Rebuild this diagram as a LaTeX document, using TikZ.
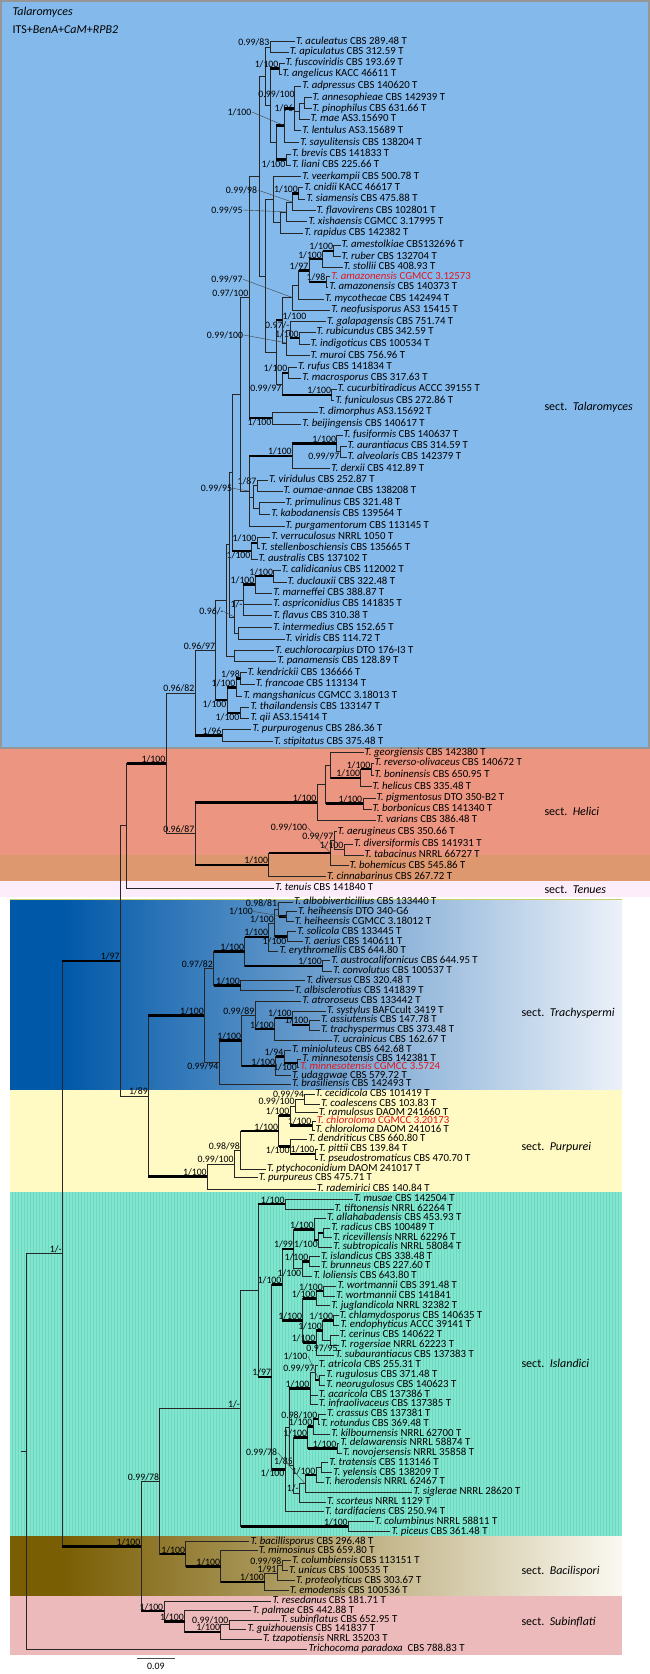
\documentclass[tikz,border=0pt]{standalone}
\usepackage{fontspec}
\setmainfont{Carlito}
\definecolor{talblue}{RGB}{132,185,236}
\definecolor{talframe}{RGB}{150,150,150}
\definecolor{helsalmon}{RGB}{236,150,130}
\definecolor{helband}{RGB}{222,152,112}
\definecolor{tenpink}{RGB}{253,236,250}
\definecolor{tradeep}{RGB}{0,88,168}
\definecolor{tramid}{RGB}{105,158,212}
\definecolor{tralight}{RGB}{236,241,249}
\definecolor{trline}{RGB}{200,205,110}
\definecolor{purpyellow}{RGB}{255,250,196}
\definecolor{islteal}{RGB}{128,230,206}
\definecolor{islstripe}{RGB}{112,216,194}
\definecolor{bacolive}{RGB}{122,94,4}
\definecolor{bacmid}{RGB}{212,198,150}
\definecolor{baclight}{RGB}{250,248,240}
\definecolor{subpink}{RGB}{236,186,186}
\definecolor{novred}{RGB}{230,20,30}
\newcommand{\tal}[1]{\textit{T. #1}}
\newcommand{\clade}[2]{\foreach \ch in {#2}{\draw[branch] (#1) |- (\ch);}}
\newcommand{\strongbr}[2]{\foreach \ch in {#2}{\draw[strong] (#1 |- \ch) -- (\ch);}}
\tikzset{
  taxon/.style={anchor=west, inner sep=1pt, font=\fontsize{10.8}{11}\selectfont, text height=6.3pt, text depth=1.6pt},
  newtaxon/.style={taxon, text=novred},
  supp/.style={inner sep=0.4pt, font=\fontsize{9.8}{10}\selectfont},
  bs/.style={label={[supp]above left:#1}},
  bsb/.style={label={[supp]below left:#1}},
  bsr/.style={label={[supp]above right:#1}},
  branch/.style={line width=0.55pt, draw=black!85},
  strong/.style={line width=2.6pt, draw=black},
  leaderline/.style={line width=0.4pt, draw=black!75},
  sectlabel/.style={anchor=west, font=\fontsize{12}{14}\selectfont},
}
\begin{document}
\begin{tikzpicture}[x=1pt,y=-1pt]
\useasboundingbox (0,0) rectangle (650,1674);
% section boxes
\fill[talblue] (1,1) rectangle (649,747.7);
\draw[talframe, line width=1.6pt] (1,1) rectangle (649,747.7);
\fill[helsalmon] (0,748.5) rectangle (650,880.5);
\fill[helband] (0,855) rectangle (650,880.5);
\fill[tenpink] (0,880.5) rectangle (650,897);
\fill[tradeep] (9.5,899) rectangle (62,1090);
\shade[left color=tradeep, middle color=tramid, right color=tralight] (62,899) rectangle (622,1090);
\draw[trline, line width=0.8pt] (9.5,899) -- (622,899);
\fill[purpyellow] (9.5,1090) rectangle (622,1192);
\fill[islteal] (9.5,1192) rectangle (622,1536);
\foreach \s in {12,15,...,620} {\draw[islstripe, line width=0.5pt] (\s,1192) -- (\s,1536);}
\fill[bacolive] (9.5,1536) rectangle (62,1596);
\shade[left color=bacolive, middle color=bacmid, right color=baclight] (62,1536) rectangle (622,1596);
\fill[subpink] (9.5,1596) rectangle (622,1655);
% headings
\node[sectlabel] (title) at (9,12.7) {\textit{Talaromyces}};
\node[sectlabel] (markers) at (9,30) {ITS+\textit{BenA}+\textit{CaM}+\textit{RPB2}};
\node[sectlabel] (stal) at (541,407.7) {sect.\ \ \textit{Talaromyces}};
\node[sectlabel] (shel) at (541,811) {sect.\ \ \textit{Helici}};
\node[sectlabel] (sten) at (541,889.3) {sect.\ \ \textit{Tenues}};
\node[sectlabel] (stra) at (518,1013.3) {sect.\ \ \textit{Trachyspermi}};
\node[sectlabel] (spur) at (518,1147.7) {sect.\ \ \textit{Purpurei}};
\node[sectlabel] (sisl) at (518,1363.3) {sect.\ \ \textit{Islandici}};
\node[sectlabel] (sbac) at (518,1571) {sect.\ \ \textit{Bacilispori}};
\node[sectlabel] (ssub) at (518,1621.7) {sect.\ \ \textit{Subinflati}};
% taxa: sect. Talaromyces
\node[taxon] (aculeatus) at (294.9,41.7) {\tal{aculeatus} CBS 289.48 T};
\node[taxon] (apiculatus) at (288.7,52.3) {\tal{apiculatus} CBS 312.59 T};
\node[taxon] (fuscoviridis) at (284.5,63.3) {\tal{fuscoviridis} CBS 193.69 T};
\node[taxon] (angelicus) at (281.5,74) {\tal{angelicus} KACC 46611 T};
\node[taxon] (adpressus) at (301.2,86) {\tal{adpressus} CBS 140620 T};
\node[taxon] (annesophieae) at (311.5,97.7) {\tal{annesophieae} CBS 142939 T};
\node[taxon] (pinophilus) at (311.5,108.7) {\tal{pinophilus} CBS 631.66 T};
\node[taxon] (mae) at (309.5,119.3) {\tal{mae} AS3.15690 T};
\node[taxon] (lentulus) at (301.2,130.7) {\tal{lentulus} AS3.15689 T};
\node[taxon] (sayulitensis) at (299.1,142.7) {\tal{sayulitensis} CBS 138204 T};
\node[taxon] (brevis) at (290.8,154.3) {\tal{brevis} CBS 141833 T};
\node[taxon] (liani) at (290.8,165) {\tal{liani} CBS 225.66 T};
\node[taxon] (veerkampii) at (301.2,176.7) {\tal{veerkampii} CBS 500.78 T};
\node[taxon] (cnidii) at (303.2,187.7) {\tal{cnidii} KACC 46617 T};
\node[taxon] (siamensis) at (305.3,199.3) {\tal{siamensis} CBS 475.88 T};
\node[taxon] (flavovirens) at (315.5,210.7) {\tal{flavovirens} CBS 102801 T};
\node[taxon] (xishaensis) at (307.4,221.7) {\tal{xishaensis} CGMCC 3.17995 T};
\node[taxon] (rapidus) at (303.2,233.3) {\tal{rapidus} CBS 142382 T};
\node[taxon] (amestolkiae) at (340.5,245) {\tal{amestolkiae} CBS132696 T};
\node[taxon] (ruber) at (340.5,256.7) {\tal{ruber} CBS 132704 T};
\node[taxon] (stollii) at (342.5,267.3) {\tal{stollii} CBS 408.93 T};
\node[newtaxon] (amazonensisA) at (330.2,276.7) {\tal{amazonensis} CGMCC 3.12573};
\node[taxon] (amazonensisB) at (328.1,287.3) {\tal{amazonensis} CBS 140373 T};
\node[taxon] (mycothecae) at (324,299) {\tal{mycothecae} CBS 142494 T};
\node[taxon] (neofusisporus) at (330.2,310) {\tal{neofusisporus} AS3 15415 T};
\node[taxon] (galapagensis) at (326,321.7) {\tal{galapagensis} CBS 751.74 T};
\node[taxon] (rubicundus) at (315.5,332.3) {\tal{rubicundus} CBS 342.59 T};
\node[taxon] (indigoticus) at (309.5,344) {\tal{indigoticus} CBS 100534 T};
\node[taxon] (muroi) at (309.5,355.7) {\tal{muroi} CBS 756.96 T};
\node[taxon] (rufus) at (297,367.3) {\tal{rufus} CBS 141834 T};
\node[taxon] (macrosporus) at (301.2,378.3) {\tal{macrosporus} CBS 317.63 T};
\node[taxon] (cucurbitiradicus) at (336.5,389.3) {\tal{cucurbitiradicus} ACCC 39155 T};
\node[taxon] (funiculosus) at (334.3,400.7) {\tal{funiculosus} CBS 272.86 T};
\node[taxon] (dimorphus) at (317.5,412.3) {\tal{dimorphus} AS3.15692 T};
\node[taxon] (beijingensis) at (301.2,424) {\tal{beijingensis} CBS 140617 T};
\node[taxon] (fusiformis) at (342.5,435) {\tal{fusiformis} CBS 140637 T};
\node[taxon] (aurantiacus) at (346.5,446) {\tal{aurantiacus} CBS 314.59 T};
\node[taxon] (alveolaris) at (346.5,457.3) {\tal{alveolaris} CBS 142379 T};
\node[taxon] (derxii) at (330.2,468.7) {\tal{derxii} CBS 412.89 T};
\node[taxon] (viridulus) at (268,480) {\tal{viridulus} CBS 252.87 T};
\node[taxon] (oumaeannae) at (282.5,491) {\tal{oumae-annae} CBS 138208 T};
\node[taxon] (primulinus) at (284.5,502.7) {\tal{primulinus} CBS 321.48 T};
\node[taxon] (kabodanensis) at (270.1,514) {\tal{kabodanensis} CBS 139564 T};
\node[taxon] (purgamentorum) at (284.5,526) {\tal{purgamentorum} CBS 113145 T};
\node[taxon] (verruculosus) at (270.1,537.3) {\tal{verruculosus} NRRL 1050 T};
\node[taxon] (stellenboschiensis) at (259.7,548.3) {\tal{stellenboschiensis} CBS 135665 T};
\node[taxon] (australis) at (257.5,559.3) {\tal{australis} CBS 137102 T};
\node[taxon] (calidicanius) at (280.5,570) {\tal{calidicanius} CBS 112002 T};
\node[taxon] (duclauxii) at (286.5,582.3) {\tal{duclauxii} CBS 322.48 T};
\node[taxon] (marneffei) at (272.1,593.3) {\tal{marneffei} CBS 388.87 T};
\node[taxon] (aspriconidius) at (272.1,604.3) {\tal{aspriconidius} CBS 141835 T};
\node[taxon] (flavus) at (272.1,615.7) {\tal{flavus} CBS 310.38 T};
\node[taxon] (intermedius) at (272.1,627.7) {\tal{intermedius} CBS 152.65 T};
\node[taxon] (viridis) at (284.5,639.3) {\tal{viridis} CBS 114.72 T};
\node[taxon] (euchlorocarpius) at (274.2,650.7) {\tal{euchlorocarpius} DTO 176-I3 T};
\node[taxon] (panamensis) at (276.3,661) {\tal{panamensis} CBS 128.89 T};
\node[taxon] (kendrickii) at (246.5,672.7) {\tal{kendrickii} CBS 136666 T};
\node[taxon] (francoae) at (254.7,684.3) {\tal{francoae} CBS 113134 T};
\node[taxon] (mangshanicus) at (242.3,696) {\tal{mangshanicus} CGMCC 3.18013 T};
\node[taxon] (thailandensis) at (249.3,707.3) {\tal{thailandensis} CBS 133147 T};
\node[taxon] (qii) at (249.3,718.3) {\tal{qii} AS3.15414 T};
\node[taxon] (purpurogenus) at (251.4,729.3) {\tal{purpurogenus} CBS 286.36 T};
\node[taxon] (stipitatus) at (273,741.7) {\tal{stipitatus} CBS 375.48 T};
% taxa: sect. Helici, Tenues
\node[taxon] (georgiensis) at (363.5,752.7) {\tal{georgiensis} CBS 142380 T};
\node[taxon] (reversoolivaceus) at (373.5,763.3) {\tal{reverso-olivaceus} CBS 140672 T};
\node[taxon] (boninensis) at (373.5,775) {\tal{boninensis} CBS 650.95 T};
\node[taxon] (helicus) at (371.5,786.7) {\tal{helicus} CBS 335.48 T};
\node[taxon] (pigmentosus) at (375.5,798.3) {\tal{pigmentosus} DTO 350-B2 T};
\node[taxon] (borbonicus) at (371.5,809) {\tal{borbonicus} CBS 141340 T};
\node[taxon] (varians) at (375.5,820) {\tal{varians} CBS 386.48 T};
\node[taxon] (aerugineus) at (336.5,831.7) {\tal{aerugineus} CBS 350.66 T};
\node[taxon] (diversiformis) at (353,844) {\tal{diversiformis} CBS 141931 T};
\node[taxon] (tabacinus) at (363.5,855) {\tal{tabacinus} NRRL 66727 T};
\node[taxon] (bohemicus) at (348.5,865.7) {\tal{bohemicus} CBS 545.86 T};
\node[taxon] (cinnabarinus) at (326,876.7) {\tal{cinnabarinus} CBS 267.72 T};
\node[taxon] (tenuis) at (274.2,888.3) {\tal{tenuis} CBS 141840 T};
% taxa: sect. Trachyspermi
\node[taxon] (albobiverticillius) at (292.9,902.3) {\tal{albobiverticillius} CBS 133440 T};
\node[taxon] (heiheensisA) at (297,911.7) {\tal{heiheensis} DTO 340-G6};
\node[taxon] (heiheensisB) at (293.7,921.7) {\tal{heiheensis} CGMCC 3.18012 T};
\node[taxon] (solicola) at (296.2,931.7) {\tal{solicola} CBS 133445 T};
\node[taxon] (aerius) at (303.2,941.7) {\tal{aerius} CBS 140611 T};
\node[taxon] (erythromellis) at (278.4,951) {\tal{erythromellis} CBS 644.80 T};
\node[taxon] (austrocalifornicus) at (330.2,960.7) {\tal{austrocalifornicus} CBS 644.95 T};
\node[taxon] (convolutus) at (332.2,971) {\tal{convolutus} CBS 100537 T};
\node[taxon] (diversus) at (305.3,980.7) {\tal{diversus} CBS 320.48 T};
\node[taxon] (albisclerotius) at (293.7,990.7) {\tal{albisclerotius} CBS 141839 T};
\node[taxon] (atroroseus) at (301.2,1001) {\tal{atroroseus} CBS 133442 T};
\node[taxon] (systylus) at (326,1011) {\tal{systylus} BAFCcult 3419 T};
\node[taxon] (assiutensis) at (319.8,1020) {\tal{assiutensis} CBS 147.78 T};
\node[taxon] (trachyspermus) at (319.8,1030) {\tal{trachyspermus} CBS 373.48 T};
\node[taxon] (ucrainicus) at (332.2,1040.3) {\tal{ucrainicus} CBS 162.67 T};
\node[taxon] (minioluteus) at (290.8,1050) {\tal{minioluteus} CBS 642.68 T};
\node[taxon] (minnesotensisA) at (301.2,1059) {\tal{minnesotensis} CBS 142381 T};
\node[newtaxon] (minnesotensisB) at (299.1,1067.3) {\tal{minnesotensis} CGMCC 3.5724};
\node[taxon] (udagawae) at (290.8,1075.7) {\tal{udagawae} CBS 579.72 T};
\node[taxon] (brasiliensis) at (290.8,1084) {\tal{brasiliensis} CBS 142493 T};
% taxa: sect. Purpurei
\node[taxon] (cecidicola) at (314.5,1094) {\tal{cecidicola} CBS 101419 T};
\node[taxon] (coalescens) at (319.8,1104) {\tal{coalescens} CBS 103.83 T};
\node[taxon] (ramulosus) at (317.7,1112.7) {\tal{ramulosus} DAOM 241660 T};
\node[newtaxon] (chlorolomaA) at (315.7,1121) {\tal{chloroloma} CGMCC 3.20173};
\node[taxon] (chlorolomaB) at (314.5,1130) {\tal{chloroloma} DAOM 241016 T};
\node[taxon] (dendriticus) at (307.4,1139) {\tal{dendriticus} CBS 660.80 T};
\node[taxon] (pittii) at (317.7,1149) {\tal{pittii} CBS 139.84 T};
\node[taxon] (pseudostromaticus) at (317.7,1159) {\tal{pseudostromaticus} CBS 470.70 T};
\node[taxon] (ptychoconidium) at (265.9,1169) {\tal{ptychoconidium} DAOM 241017 T};
\node[taxon] (purpureus) at (257.6,1177.7) {\tal{purpureus} CBS 475.71 T};
\node[taxon] (rademirici) at (315.7,1189) {\tal{rademirici} CBS 140.84 T};
% taxa: sect. Islandici
\node[taxon] (musae) at (353,1199.3) {\tal{musae} CBS 142504 T};
\node[taxon] (tiftonensis) at (333.5,1209) {\tal{tiftonensis} NRRL 62264 T};
\node[taxon] (allahabadensis) at (326,1218.3) {\tal{allahabadensis} CBS 453.93 T};
\node[taxon] (radicus) at (330.2,1228.3) {\tal{radicus} CBS 100489 T};
\node[taxon] (ricevillensis) at (332.2,1237.7) {\tal{ricevillensis} NRRL 62296 T};
\node[taxon] (subtropicalis) at (332.2,1247.3) {\tal{subtropicalis} NRRL 58084 T};
\node[taxon] (islandicus) at (319.8,1256.7) {\tal{islandicus} CBS 338.48 T};
\node[taxon] (brunneus) at (319.8,1266) {\tal{brunneus} CBS 227.60 T};
\node[taxon] (loliensis) at (312.3,1276) {\tal{loliensis} CBS 643.80 T};
\node[taxon] (wortmanniiA) at (336.4,1286) {\tal{wortmannii} CBS 391.48 T};
\node[taxon] (wortmanniiB) at (335.2,1296) {\tal{wortmannii} CBS 141841};
\node[taxon] (juglandicola) at (330.2,1305.7) {\tal{juglandicola} NRRL 32382 T};
\node[taxon] (chlamydosporus) at (338.5,1315.7) {\tal{chlamydosporus} CBS 140635 T};
\node[taxon] (endophyticus) at (339.3,1325) {\tal{endophyticus} ACCC 39141 T};
\node[taxon] (cerinus) at (338.5,1335) {\tal{cerinus} CBS 140622 T};
\node[taxon] (rogersiae) at (339.3,1345) {\tal{rogersiae} NRRL 62223 T};
\node[taxon] (subaurantiacus) at (334.3,1355) {\tal{subaurantiacus} CBS 137383 T};
\node[taxon] (atricola) at (317.7,1365) {\tal{atricola} CBS 255.31 T};
\node[taxon] (rugulosus) at (325.2,1375) {\tal{rugulosus} CBS 371.48 T};
\node[taxon] (neorugulosus) at (325.2,1385) {\tal{neorugulosus} CBS 140623 T};
\node[taxon] (acaricola) at (317.7,1395) {\tal{acaricola} CBS 137386 T};
\node[taxon] (infraolivaceus) at (317.7,1404.3) {\tal{infraolivaceus} CBS 137385 T};
\node[taxon] (crassus) at (326,1414.3) {\tal{crassus} CBS 137381 T};
\node[taxon] (rotundus) at (319.8,1424) {\tal{rotundus} CBS 369.48 T};
\node[taxon] (kilbournensis) at (330.2,1434) {\tal{kilbournensis} NRRL 62700 T};
\node[taxon] (delawarensis) at (339.3,1443.3) {\tal{delawarensis} NRRL 58874 T};
\node[taxon] (novojersensis) at (341.8,1453.3) {\tal{novojersensis} NRRL 35858 T};
\node[taxon] (tratensis) at (328.1,1462.7) {\tal{tratensis} CBS 113146 T};
\node[taxon] (yelensis) at (332.2,1472.7) {\tal{yelensis} CBS 138209 T};
\node[taxon] (herodensis) at (324,1482.3) {\tal{herodensis} NRRL 62467 T};
\node[taxon] (siglerae) at (412.3,1492.3) {\tal{siglerae} NRRL 28620 T};
\node[taxon] (scorteus) at (326,1502.3) {\tal{scorteus} NRRL 1129 T};
\node[taxon] (tardifaciens) at (324,1511.7) {\tal{tardifaciens} CBS 250.94 T};
\node[taxon] (columbinus) at (373.7,1521.7) {\tal{columbinus} NRRL 58811 T};
\node[taxon] (piceus) at (390.3,1531.7) {\tal{piceus} CBS 361.48 T};
% taxa: sect. Bacilispori, Subinflati, outgroup
\node[taxon] (bacillisporus) at (249.3,1541.7) {\tal{bacillisporus} CBS 296.48 T};
\node[taxon] (mimosinus) at (257.6,1550.7) {\tal{mimosinus} CBS 659.80 T};
\node[taxon] (columbiensis) at (290.8,1560.7) {\tal{columbiensis} CBS 113151 T};
\node[taxon] (unicus) at (287.9,1570.7) {\tal{unicus} CBS 100535 T};
\node[taxon] (proteolyticus) at (294.9,1580.7) {\tal{proteolyticus} CBS 303.67 T};
\node[taxon] (emodensis) at (288.7,1590.7) {\tal{emodensis} CBS 100536 T};
\node[taxon] (resedanus) at (271.3,1601) {\tal{resedanus} CBS 181.71 T};
\node[taxon] (palmae) at (251.4,1610.7) {\tal{palmae} CBS 442.88 T};
\node[taxon] (subinflatus) at (279.6,1620) {\tal{subinflatus} CBS 652.95 T};
\node[taxon] (guizhouensis) at (246.4,1629.3) {\tal{guizhouensis} CBS 141837 T};
\node[taxon] (tzapotiensis) at (261.8,1639) {\tal{tzapotiensis} NRRL 35203 T};
\node[taxon] (paradoxa) at (307.4,1649.3) {\textit{Trichocoma paradoxa}\ \ CBS 788.83 T};
% clade nodes: sect. Talaromyces
\coordinate[bs=0.99/83] (cacap) at (270,47);
\coordinate[bs=1/100] (cfa) at (279,68.65);
\coordinate (cap) at (304.7,103.2);
\coordinate (capm) at (299.3,111.3);
\coordinate (cad) at (294.4,108.35);
\coordinate (cx) at (284,125.5);
\coordinate[bsb=1/100] (cbl) at (286,159.65);
\coordinate (cy) at (276,142.6);
\coordinate (cz) at (270,105.6);
\coordinate (cAone) at (265,76.3);
\coordinate[bs=1/100] (ccs) at (298.5,193.5);
\coordinate (ccstwo) at (292.3,202.1);
\coordinate (ccsx) at (286,211.9);
\coordinate (ccsxr) at (280.7,222.6);
\coordinate (cvc) at (273.6,199.65);
\coordinate[bs=1/100] (car) at (333.7,250.85);
\coordinate[bs=1/100] (cars) at (322.5,259.1);
\coordinate[bs=1/98] (cam) at (326,282);
\coordinate[bs=1/97] (carsam) at (309,270.55);
\coordinate (cmyc) at (298.5,284.8);
\coordinate (cneo) at (292,297.4);
\coordinate[bs=1/100] (cri) at (299.3,338.15);
\coordinate[bs=0.97/-] (cgri) at (290,329.9);
\coordinate (cgrim) at (286,342.8);
\coordinate[bsr=1/100] (cng) at (282,320.1);
\coordinate[bs=1/100] (crm) at (288,372.8);
\coordinate[bs=1/100] (ccf) at (331.7,395);
\coordinate[bsb=0.99/97] (crmcf) at (282,383.9);
\coordinate (cgam) at (276,352);
\coordinate (cbeta) at (265,275.8);
\coordinate (ctop) at (259,176.05);
\coordinate[bs=0.97/100] (cT) at (249,297.1);
\coordinate[bsb=1/100] (cdb) at (272,418.15);
\coordinate[bsb=0.99/97] (caa) at (340,451.65);
\coordinate[bs=1/100] (cfaa) at (336.7,443.3);
\coordinate[bs=1/100] (cfad) at (292.3,456);
\coordinate[bs=1/87] (cvo) at (257,485.5);
\coordinate (cpk) at (259,508.35);
\coordinate (cV) at (253.7,496.9);
\coordinate (cW) at (249,491);
\coordinate (cTW) at (240,394.05);
\coordinate[bs=1/100] (cvs) at (257,542.8);
\coordinate[bsb=1/100] (cvsa) at (251,551.05);
\coordinate (cXone) at (232,472.5);
\coordinate[bs=1/100] (ccd) at (273.6,576.15);
\coordinate[bs=1/100] (ccdm) at (255,584.7);
\coordinate[bsb=1/-] (cmar) at (243,600.2);
\coordinate (civ) at (238,633.5);
\coordinate (cmi) at (234,616.85);
\coordinate (cuone) at (229,544.7);
\coordinate (cep) at (234,655.85);
\coordinate (cU) at (226,600.3);
\coordinate[bs=1/98] (ckf) at (240.5,678.5);
\coordinate[bs=1/100] (ckfm) at (236,687.25);
\coordinate[bsb=1/100] (cM) at (240,712.8);
\coordinate[bsb=1/100] (cN) at (227,700);
\coordinate[bs=0.96/97] (cL) at (215.6,650.15);
\coordinate[bs=1/96] (cps) at (222,735.5);
\coordinate[bs=0.96/82] (cTzero) at (195,692.8);
% clade nodes: sect. Helici, Tenues
\coordinate[bs=1/100] (crb) at (371,769.15);
\coordinate[bs=1/100] (crbh) at (360.7,777.9);
\coordinate (cgrbh) at (330.5,765.3);
\coordinate[bs=1/100] (cpb) at (362.8,803.65);
\coordinate (cgp) at (325.5,784.5);
\coordinate[bs=1/100] (cHc) at (317,802.25);
\coordinate[bs=1/100] (cdt) at (344,849.5);
\coordinate[bs=0.99/97] (cadt) at (334,840.6);
\coordinate (cadtb) at (330.5,853.15);
\coordinate[bs=1/100] (cK) at (268.7,864.9);
\coordinate[bs=0.96/87] (cI) at (195,833.55);
\coordinate[bs=1/100] (cH) at (166,763.2);
\coordinate (cG) at (126.5,825.75);
% clade nodes: sect. Trachyspermi
\coordinate (chh) at (286,916.7);
\coordinate (cahh) at (278.6,909.5);
\coordinate[bsb=1/100] (csa) at (287,936.7);
\coordinate[bs=1/100] (cahhsa) at (274.5,923.1);
\coordinate[bs=1/100] (ce) at (268.7,937);
\coordinate[bs=1/100] (cacc) at (322.5,965.85);
\coordinate[bs=1/100] (ceac) at (244.6,951.4);
\coordinate[bs=1/100] (cda) at (240.5,985.7);
\coordinate[bs=0.97/82] (ceacda) at (213.5,968.55);
\coordinate[bs=1/100] (csys) at (292.3,1018);
\coordinate[bs=1/100] (cat) at (308.9,1025);
\coordinate[bs=1/100] (csat) at (274.5,1029.15);
\coordinate[bs=0.99/89] (catro) at (255,1015.1);
\coordinate[bsb=1/100] (cmm) at (297.5,1063.15);
\coordinate[bs=1/94] (cmmthree) at (284,1056.6);
\coordinate[bs=1/100] (cmin) at (275.7,1066.15);
\coordinate[bs=1/100] (cY) at (241.7,1040.6);
\coordinate[bsb=0.99/94] (cbras) at (219,1062.3);
\coordinate[bs=1/100] (cTR) at (204.4,1015.4);
\coordinate[bs=1/89] (cF) at (148.4,1095.9);
\coordinate[bs=1/97] (cC) at (120.2,960.8);
% clade nodes: sect. Purpurei
\coordinate[bs=0.99/94] (ccc) at (304.7,1099);
\coordinate[bs=0.99/100] (cccr) at (295.2,1105.85);
\coordinate[bs=1/100] (cchl) at (312,1125.5);
\coordinate[bs=1/100] (cccrc) at (290,1115.7);
\coordinate[bs=1/100] (cpp) at (315,1154);
\coordinate[bsb=1/100] (cdpp) at (290.2,1146.5);
\coordinate[bs=1/100] (cpurone) at (278.6,1131.1);
\coordinate[bs=0.98/98] (cpurtwo) at (240.5,1150.05);
\coordinate[bs=0.99/100] (cpurthree) at (234.2,1163.9);
\coordinate[bs=1/100] (cPU) at (207.3,1176.45);
% clade nodes: sect. Islandici
\coordinate[bs=1/100] (cmt) at (285.2,1204.15);
\coordinate (crr) at (323.4,1233);
\coordinate[bsb=1/100] (crrs) at (318.4,1240.15);
\coordinate[bs=1/100] (carrs) at (314.3,1229.2);
\coordinate[bs=1/100] (cib) at (308.9,1261.35);
\coordinate[bsb=1/100] (cibl) at (301.8,1268.7);
\coordinate[bs=1/99] (cX) at (293.5,1248.95);
\coordinate[bs=1/100] (cwor) at (323.4,1291);
\coordinate[bs=1/100] (cworj) at (316,1298.35);
\coordinate[bs=1/100] (cce) at (333.7,1320.35);
\coordinate (ccr) at (330,1340);
\coordinate[bs=1/100] (ccecr) at (322.5,1330.2);
\coordinate[bs=1/100] (ccecrs) at (316,1342.6);
\coordinate[bs=1/100] (cwc) at (302.7,1320.5);
\coordinate[bs=1/100] (cXwc) at (282,1284.7);
\coordinate (catone) at (319.2,1380);
\coordinate[bs=0.99/97] (cattwo) at (315,1372.5);
\coordinate[bs=1/100] (catthree) at (310,1388.4);
\coordinate[bs=0.98/100] (ccrtwo) at (318,1419.15);
\coordinate[bs=1/100] (ccrk) at (313,1426.6);
\coordinate[bs=1/100] (cdn) at (337,1448.3);
\coordinate[bs=1/100] (ccrkdn) at (307.6,1437.45);
\coordinate (cty) at (321.3,1467.7);
\coordinate[bs=1/100] (ctyh) at (316,1475);
\coordinate (ctyhs) at (305,1483.65);
\coordinate[bs=1/-] (cga) at (299.3,1492.98);
\coordinate[bs=1/85] (cgb) at (293.5,1465.2);
\coordinate (cgc) at (289,1426.8);
\coordinate[bsb=1/100] (clow) at (285,1469.25);
\coordinate[bs=1/97] (ccore) at (271.6,1376.98);
\coordinate (cislone) at (257.9,1290.56);
\coordinate[bs=1/100] (ccp) at (348.3,1526.7);
\coordinate[bs=1/-] (cisl) at (240.5,1408.63);
% clade nodes: sect. Bacilispori, Subinflati, backbone
\coordinate[bs=0.99/98] (ccu) at (282,1565.7);
\coordinate[bs=1/91] (ccup) at (277,1573.2);
\coordinate[bs=1/100] (ccupe) at (264.5,1581.95);
\coordinate[bs=1/100] (cmc) at (220.6,1566.3);
\coordinate[bs=1/100] (cBA) at (185.7,1554);
\coordinate[bs=0.99/100] (csg) at (228.9,1624.65);
\coordinate[bs=1/100] (csgt) at (220.6,1631.8);
\coordinate[bs=1/100] (cpsgt) at (184.5,1621.25);
\coordinate[bs=1/100] (cSU) at (163.8,1611.1);
\coordinate[bs=0.99/78] (cE) at (159.6,1481.3);
\coordinate[bs=1/100] (cD) at (141,1546.2);
\coordinate[bs=1/-] (cA) at (62.2,1253.5);
\coordinate (croot) at (26.1,1451.4);
\coordinate (cstub) at (20.7,1451.4);
% branches: sect. Talaromyces
\clade{cacap}{aculeatus,apiculatus}
\clade{cfa}{fuscoviridis,angelicus}
\clade{cap}{annesophieae,pinophilus}
\clade{capm}{cap,mae}
\clade{cad}{adpressus,capm,lentulus}
\clade{cx}{cad,sayulitensis}
\clade{cbl}{brevis,liani}
\clade{cy}{cx,cbl}
\clade{cz}{cfa,cy}
\clade{cAone}{cacap,cz}
\clade{ccs}{cnidii,siamensis}
\clade{ccstwo}{ccs,flavovirens}
\clade{ccsx}{ccstwo,xishaensis}
\clade{ccsxr}{ccsx,rapidus}
\clade{cvc}{veerkampii,ccsxr}
\clade{car}{amestolkiae,ruber}
\clade{cars}{car,stollii}
\clade{cam}{amazonensisA,amazonensisB}
\clade{carsam}{cars,cam}
\clade{cmyc}{carsam,mycothecae}
\clade{cneo}{cmyc,neofusisporus}
\clade{cri}{rubicundus,indigoticus}
\clade{cgri}{galapagensis,cri}
\clade{cgrim}{cgri,muroi}
\clade{cng}{cneo,cgrim}
\clade{crm}{rufus,macrosporus}
\clade{ccf}{cucurbitiradicus,funiculosus}
\clade{crmcf}{crm,ccf}
\clade{cgam}{cng,crmcf}
\clade{cbeta}{cvc,cgam}
\clade{ctop}{cAone,cbeta}
\clade{cdb}{dimorphus,beijingensis}
\clade{cT}{ctop,cdb}
\clade{caa}{aurantiacus,alveolaris}
\clade{cfaa}{fusiformis,caa}
\clade{cfad}{cfaa,derxii}
\clade{cvo}{viridulus,oumaeannae}
\clade{cpk}{primulinus,kabodanensis}
\clade{cV}{cvo,cpk}
\clade{cW}{cfad,cV,purgamentorum}
\clade{cTW}{cT,cW}
\clade{cvs}{verruculosus,stellenboschiensis}
\clade{cvsa}{cvs,australis}
\clade{cXone}{cTW,cvsa}
\clade{ccd}{calidicanius,duclauxii}
\clade{ccdm}{ccd,marneffei}
\clade{cmar}{ccdm,aspriconidius,flavus}
\clade{civ}{intermedius,viridis}
\clade{cmi}{cmar,civ}
\clade{cuone}{cXone,cmi}
\clade{cep}{euchlorocarpius,panamensis}
\clade{cU}{cuone,cep}
\clade{ckf}{kendrickii,francoae}
\clade{ckfm}{ckf,mangshanicus}
\clade{cM}{thailandensis,qii}
\clade{cN}{ckfm,cM}
\clade{cL}{cU,cN}
\clade{cps}{purpurogenus,stipitatus}
\clade{cTzero}{cL,cps}
\strongbr{cz}{cfa}
\strongbr{cx}{cad}
\strongbr{cy}{cx,cbl}
\strongbr{ccstwo}{ccs}
\strongbr{cars}{car}
\strongbr{carsam}{cars,cam}
\strongbr{cmyc}{carsam}
\strongbr{cgri}{cri}
\strongbr{cgam}{cng}
\strongbr{crmcf}{crm,ccf}
\strongbr{cT}{cdb}
\strongbr{cfad}{cfaa}
\strongbr{cW}{cfad}
\strongbr{cvsa}{cvs}
\strongbr{cXone}{cvsa}
\strongbr{ccdm}{ccd}
\strongbr{cmar}{ccdm}
\strongbr{ckfm}{ckf}
\strongbr{cN}{ckfm,cM}
\strongbr{cL}{cN}
\strongbr{cTzero}{cps}
% branches: sect. Helici, Tenues
\clade{crb}{reversoolivaceus,boninensis}
\clade{crbh}{crb,helicus}
\clade{cgrbh}{georgiensis,crbh}
\clade{cpb}{pigmentosus,borbonicus}
\clade{cgp}{cgrbh,cpb}
\clade{cHc}{cgp,varians}
\clade{cdt}{diversiformis,tabacinus}
\clade{cadt}{aerugineus,cdt}
\clade{cadtb}{cadt,bohemicus}
\clade{cK}{cadtb,cinnabarinus}
\clade{cI}{cHc,cK}
\clade{cH}{cTzero,cI}
\clade{cG}{cH,tenuis}
\strongbr{crbh}{crb}
\strongbr{cgrbh}{crbh}
\strongbr{cgp}{cpb}
\strongbr{cI}{cHc,cK}
\strongbr{cK}{cadtb}
\strongbr{cG}{cH}
% branches: sect. Trachyspermi
\clade{chh}{heiheensisA,heiheensisB}
\clade{cahh}{albobiverticillius,chh}
\clade{csa}{solicola,aerius}
\clade{cahhsa}{cahh,csa}
\clade{ce}{cahhsa,erythromellis}
\clade{cacc}{austrocalifornicus,convolutus}
\clade{ceac}{ce,cacc}
\clade{cda}{diversus,albisclerotius}
\clade{ceacda}{ceac,cda}
\clade{cat}{assiutensis,trachyspermus}
\clade{csys}{systylus,cat}
\clade{csat}{csys,ucrainicus}
\clade{catro}{atroroseus,csat}
\clade{cmm}{minnesotensisA,minnesotensisB}
\clade{cmmthree}{minioluteus,cmm}
\clade{cmin}{cmmthree,udagawae}
\clade{cY}{catro,cmin}
\clade{cbras}{cY,brasiliensis}
\clade{cTR}{ceacda,cbras}
\strongbr{cahh}{chh}
\strongbr{cahhsa}{csa}
\strongbr{ceac}{ce,cacc}
\strongbr{ceacda}{ceac,cda}
\strongbr{csys}{cat}
\strongbr{csat}{csys}
\strongbr{catro}{csat}
\strongbr{cmmthree}{cmm}
\strongbr{cmin}{cmmthree}
\strongbr{cY}{cmin}
\strongbr{cbras}{cY}
% branches: sect. Purpurei
\clade{ccc}{cecidicola,coalescens}
\clade{cccr}{ccc,ramulosus}
\clade{cchl}{chlorolomaA,chlorolomaB}
\clade{cccrc}{cccr,cchl}
\clade{cpp}{pittii,pseudostromaticus}
\clade{cdpp}{dendriticus,cpp}
\clade{cpurone}{cccrc,cdpp}
\clade{cpurtwo}{cpurone,ptychoconidium}
\clade{cpurthree}{cpurtwo,purpureus}
\clade{cPU}{cpurthree,rademirici}
\clade{cF}{cTR,cPU}
\strongbr{cccrc}{cchl}
\strongbr{cpurone}{cccrc,cdpp}
\strongbr{cdpp}{cpp}
\strongbr{cpurtwo}{cpurone}
\strongbr{cF}{cTR,cPU}
% branches: sect. Islandici
\clade{cmt}{musae,tiftonensis}
\clade{crr}{radicus,ricevillensis}
\clade{crrs}{crr,subtropicalis}
\clade{carrs}{allahabadensis,crrs}
\clade{cib}{islandicus,brunneus}
\clade{cibl}{cib,loliensis}
\clade{cX}{carrs,cibl}
\clade{cwor}{wortmanniiA,wortmanniiB}
\clade{cworj}{cwor,juglandicola}
\clade{cce}{chlamydosporus,endophyticus}
\clade{ccr}{cerinus,rogersiae}
\clade{ccecr}{cce,ccr}
\clade{ccecrs}{ccecr,subaurantiacus}
\clade{cwc}{cworj,ccecrs}
\clade{cXwc}{cX,cwc}
\clade{catone}{rugulosus,neorugulosus}
\clade{cattwo}{atricola,catone}
\clade{catthree}{cattwo,acaricola,infraolivaceus}
\clade{ccrtwo}{crassus,rotundus}
\clade{ccrk}{ccrtwo,kilbournensis}
\clade{cdn}{delawarensis,novojersensis}
\clade{ccrkdn}{ccrk,cdn}
\clade{cty}{tratensis,yelensis}
\clade{ctyh}{cty,herodensis}
\clade{ctyhs}{ctyh,siglerae}
\clade{cga}{ctyhs,scorteus}
\clade{cgb}{ccrkdn,cga}
\clade{cgc}{catthree,cgb}
\clade{clow}{cgc,tardifaciens}
\clade{ccore}{cXwc,clow}
\clade{cislone}{cmt,ccore}
\clade{ccp}{columbinus,piceus}
\clade{cisl}{cislone,ccp}
\strongbr{cislone}{cmt,ccore}
\strongbr{crrs}{crr}
\strongbr{carrs}{crrs}
\strongbr{cX}{carrs}
\strongbr{cibl}{cib}
\strongbr{cXwc}{cX,cwc}
\strongbr{ccore}{cXwc,clow}
\strongbr{cworj}{cwor}
\strongbr{cwc}{cworj,ccecrs}
\strongbr{ccecr}{cce}
\strongbr{ccecrs}{ccecr}
\strongbr{cattwo}{catone}
\strongbr{cgc}{catthree}
\strongbr{ccrk}{ccrtwo}
\strongbr{ccrkdn}{ccrk,cdn}
\strongbr{cgb}{ccrkdn}
\strongbr{ctyhs}{ctyh}
\strongbr{cisl}{ccp}
% branches: sect. Bacilispori, Subinflati, backbone
\clade{ccu}{columbiensis,unicus}
\clade{ccup}{ccu,proteolyticus}
\clade{ccupe}{ccup,emodensis}
\clade{cmc}{mimosinus,ccupe}
\clade{cBA}{bacillisporus,cmc}
\clade{cE}{cisl,cBA}
\clade{csg}{subinflatus,guizhouensis}
\clade{csgt}{csg,tzapotiensis}
\clade{cpsgt}{palmae,csgt}
\clade{cSU}{resedanus,cpsgt}
\clade{cD}{cE,cSU}
\clade{cC}{cG,cF}
\clade{cA}{cC,cD}
\clade{croot}{cA,paradoxa}
\draw[branch] (cstub) -- (croot);
\strongbr{cmc}{ccupe}
\strongbr{cBA}{cmc}
\strongbr{cE}{cBA}
\strongbr{cpsgt}{csgt}
\strongbr{cSU}{cpsgt}
\strongbr{cD}{cSU}
\strongbr{cA}{cC,cD}
% support values placed by hand, some with leader lines
\node[supp] (lcad) at (276.5,94) {0.99/100};
\node[supp] (lcapm) at (284,108.5) {1/96};
\node[supp] (lccr) at (322,1348.5) {0.97/95};
\node[supp] (lcx) at (239.5,112) {1/100};
\draw[leaderline] (lcx.east) -- (cx);
\node[supp] (lccstwo) at (241.5,190) {0.99/98};
\draw[leaderline] (lccstwo.east) -- (ccstwo);
\node[supp] (lccsx) at (227,210) {0.99/95};
\draw[leaderline] (lccsx.east) -- (ccsx);
\node[supp] (lcneo) at (227,279.3) {0.99/97};
\draw[leaderline] (lcneo.east) -- (cneo);
\node[supp] (lcgrim) at (225,335) {0.99/100};
\draw[leaderline] (lcgrim.east) -- (cgrim);
\node[supp] (lcW) at (216.5,488.3) {0.99/95};
\draw[leaderline] (lcW.east) -- (cW);
\node[supp] (lcmi) at (211.5,611.7) {0.96/-};
\draw[leaderline] (lcmi.east) -- (cmi);
\node[supp] (lcadtb) at (289,827.7) {0.99/100};
\draw[leaderline] (lcadtb.east) -- (cadtb);
\node[supp] (lcahh) at (261.5,903.5) {0.98/81};
\draw[leaderline] (lcahh.east) -- (cahh);
\node[supp] (lchh) at (241,911.5) {1/100};
\draw[leaderline] (lchh.east) -- (chh);
\node[supp] (lcatone) at (295.5,1356) {1/100};
\draw[leaderline] (lcatone.east) -- (catone);
\node[supp] (lctyhs) at (261.6,1452.7) {0.99/78};
\draw[leaderline] (lctyhs.east) -- (ctyhs);
% scale bar
\coordinate (sbleft) at (136.8,1658.3);
\coordinate (sbright) at (175,1658.3);
\draw[draw=black!70, line width=0.8pt] (sbleft) -- (sbright);
\node[supp] (sbtext) at (155.9,1666.5) {0.09};
\end{tikzpicture}
\end{document}
